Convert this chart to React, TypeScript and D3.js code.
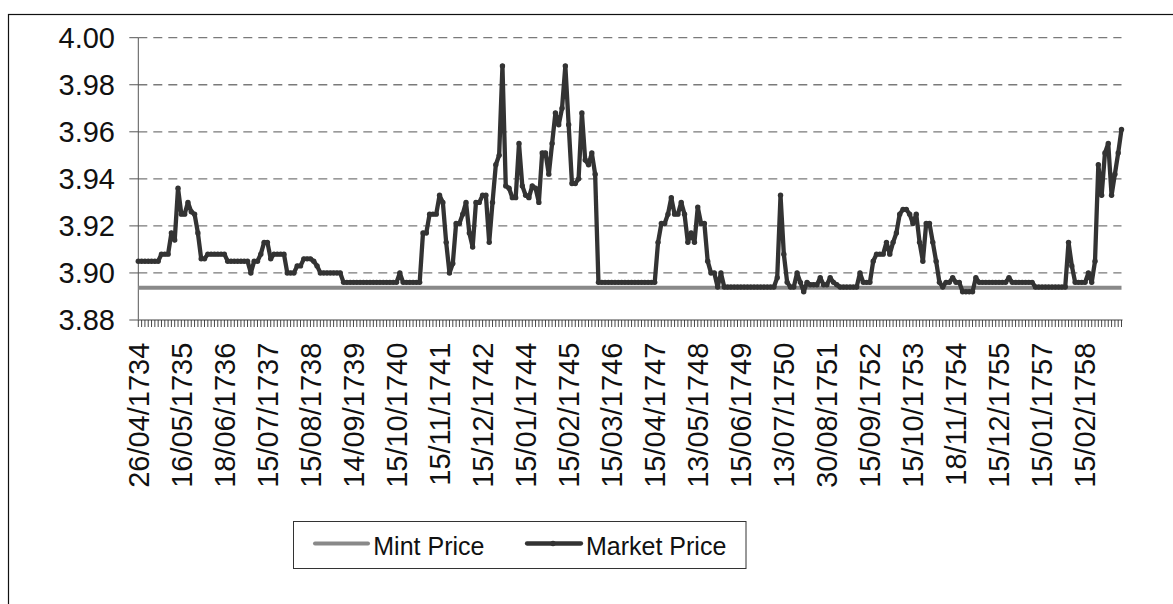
import React from 'react';
import * as d3 from 'd3';

// Category-axis labels (every 13th monthly observation)
const tickLabels = [
  '26/04/1734', '16/05/1735', '18/06/1736', '15/07/1737', '15/08/1738', '14/09/1739',
  '15/10/1740', '15/11/1741', '15/12/1742', '15/01/1744', '15/02/1745', '15/03/1746',
  '15/04/1747', '13/05/1748', '15/06/1749', '13/07/1750', '30/08/1751', '15/09/1752',
  '15/10/1753', '18/11/1754', '15/12/1755', '15/01/1757', '15/02/1758',
];
const LABEL_EVERY = 13;

const marketPrice = [
  3.905, 3.905, 3.905, 3.905, 3.905, 3.905, 3.905, 3.908, 3.908, 3.908,
  3.917, 3.914, 3.936, 3.925, 3.925, 3.930, 3.926, 3.925, 3.917, 3.906,
  3.906, 3.908, 3.908, 3.908, 3.908, 3.908, 3.908, 3.905, 3.905, 3.905,
  3.905, 3.905, 3.905, 3.905, 3.900, 3.905, 3.905, 3.908, 3.913, 3.913,
  3.906, 3.908, 3.908, 3.908, 3.908, 3.900, 3.900, 3.900, 3.903, 3.903,
  3.906, 3.906, 3.906, 3.905, 3.903, 3.900, 3.900, 3.900, 3.900, 3.900,
  3.900, 3.900, 3.896, 3.896, 3.896, 3.896, 3.896, 3.896, 3.896, 3.896,
  3.896, 3.896, 3.896, 3.896, 3.896, 3.896, 3.896, 3.896, 3.896, 3.900,
  3.896, 3.896, 3.896, 3.896, 3.896, 3.896, 3.917, 3.917, 3.925, 3.925,
  3.925, 3.933, 3.930, 3.913, 3.900, 3.904, 3.921, 3.921, 3.925, 3.930,
  3.917, 3.911, 3.930, 3.930, 3.933, 3.933, 3.913, 3.930, 3.946, 3.950,
  3.988, 3.937, 3.936, 3.932, 3.932, 3.955, 3.937, 3.933, 3.932, 3.937,
  3.936, 3.930, 3.951, 3.951, 3.942, 3.955, 3.968, 3.963, 3.970, 3.988,
  3.963, 3.938, 3.938, 3.940, 3.968, 3.948, 3.946, 3.951, 3.942, 3.896,
  3.896, 3.896, 3.896, 3.896, 3.896, 3.896, 3.896, 3.896, 3.896, 3.896,
  3.896, 3.896, 3.896, 3.896, 3.896, 3.896, 3.896, 3.913, 3.921, 3.921,
  3.925, 3.932, 3.925, 3.925, 3.930, 3.925, 3.913, 3.917, 3.913, 3.928,
  3.921, 3.921, 3.905, 3.900, 3.900, 3.894, 3.900, 3.894, 3.894, 3.894,
  3.894, 3.894, 3.894, 3.894, 3.894, 3.894, 3.894, 3.894, 3.894, 3.894,
  3.894, 3.894, 3.894, 3.898, 3.933, 3.908, 3.896, 3.894, 3.894, 3.900,
  3.896, 3.892, 3.896, 3.895, 3.895, 3.895, 3.898, 3.895, 3.895, 3.898,
  3.896, 3.895, 3.894, 3.894, 3.894, 3.894, 3.894, 3.894, 3.900, 3.896,
  3.896, 3.896, 3.905, 3.908, 3.908, 3.908, 3.913, 3.908, 3.913, 3.917,
  3.925, 3.927, 3.927, 3.925, 3.921, 3.925, 3.913, 3.905, 3.921, 3.921,
  3.913, 3.905, 3.896, 3.894, 3.896, 3.896, 3.898, 3.896, 3.896, 3.892,
  3.892, 3.892, 3.892, 3.898, 3.896, 3.896, 3.896, 3.896, 3.896, 3.896,
  3.896, 3.896, 3.896, 3.898, 3.896, 3.896, 3.896, 3.896, 3.896, 3.896,
  3.896, 3.894, 3.894, 3.894, 3.894, 3.894, 3.894, 3.894, 3.894, 3.894,
  3.894, 3.913, 3.903, 3.896, 3.896, 3.896, 3.896, 3.900, 3.896, 3.905,
  3.946, 3.933, 3.951, 3.955, 3.933, 3.942, 3.951, 3.961,
];

// Mint price (constant)
const MINT_PRICE = 3.89375;

const yTicks = [3.88, 3.9, 3.92, 3.94, 3.96, 3.98, 4.0];
const seriesNames = ['Mint Price', 'Market Price'];

const FONT = '"Liberation Sans", Arial, Helvetica, sans-serif';
const MARKET_COLOR = '#333333';
const MINT_COLOR = '#898989';

export default function App() {
  const W = 1173;
  const H = 604;
  const left = 138.3;
  const right = 1121.5;
  const top = 37.7;
  const bottom = 320;

  const idx = marketPrice.map((_, i) => i);
  const mintSeries = marketPrice.map(() => MINT_PRICE);

  const x = d3.scalePoint<number>().domain(idx).range([left, right]);
  const y = d3.scaleLinear().domain([3.88, 4.0]).range([bottom, top]);
  const fmt = d3.format('.2f');

  const lineGen = d3
    .line<number>()
    .x((_, i) => x(i) as number)
    .y((d) => y(d));

  return (
    <svg
      width={W}
      height={H}
      style={{ position: 'absolute', left: 0, top: 0, background: '#fff' }}
      fontFamily={FONT}
    >
      <rect x={0} y={0} width={W} height={H} fill="#fff" />
      {/* chart frame */}
      <rect x={8.5} y={14.5} width={1300} height={700} fill="none" stroke="#111" strokeWidth={1.2} />

      {/* gridlines */}
      {yTicks
        .filter((t) => t > 3.881)
        .map((t) => (
          <line
            key={'g' + t}
            x1={left}
            x2={right}
            y1={y(t)}
            y2={y(t)}
            stroke="#7a7a7a"
            strokeWidth={1.3}
            strokeDasharray="9,6"
          />
        ))}

      {/* y axis */}
      <line x1={left} x2={left} y1={top} y2={bottom} stroke="#555" strokeWidth={1} />
      {yTicks.map((t) => (
        <g key={'yt' + t}>
          <line x1={left - 9} x2={left} y1={y(t)} y2={y(t)} stroke="#555" strokeWidth={1} />
          <text x={115} y={y(t) + 10.4} textAnchor="end" fontSize={29} fill="#111">
            {fmt(t)}
          </text>
        </g>
      ))}

      {/* x axis */}
      <line x1={left} x2={right + 1} y1={bottom} y2={bottom} stroke="#808080" strokeWidth={1.3} />
      {idx.map((i) => (
        <line
          key={'xt' + i}
          x1={x(i)}
          x2={x(i)}
          y1={bottom}
          y2={bottom + 7}
          stroke="#333"
          strokeWidth={0.9}
        />
      ))}
      {idx
        .filter((i) => i % LABEL_EVERY === 0 && tickLabels[i / LABEL_EVERY] !== undefined)
        .map((i) => (
          <text
            key={'xl' + i}
            transform={`translate(${(x(i) as number) + 10.4},${342.7}) rotate(-90)`}
            textAnchor="end"
            fontSize={29}
            fill="#111"
          >
            {tickLabels[i / LABEL_EVERY]}
          </text>
        ))}

      {/* series */}
      <path d={lineGen(mintSeries) || ''} fill="none" stroke={MINT_COLOR} strokeWidth={4} />
      <path
        d={lineGen(marketPrice) || ''}
        fill="none"
        stroke={MARKET_COLOR}
        strokeWidth={4.3}
        strokeLinejoin="round"
      />
      {marketPrice.map((d, i) => (
        <circle key={'m' + i} cx={x(i)} cy={y(d)} r={2.7} fill={MARKET_COLOR} />
      ))}

      {/* legend */}
      <g>
        <rect x={293.5} y={521.5} width={452.5} height={47} fill="#fff" stroke="#333" strokeWidth={1} />
        <line x1={315} x2={368} y1={543.5} y2={543.5} stroke={MINT_COLOR} strokeWidth={4} strokeLinecap="round" />
        <text x={373.3} y={555} fontSize={25} fill="#111">
          {seriesNames[0]}
        </text>
        <line x1={527} x2={581} y1={543.5} y2={543.5} stroke={MARKET_COLOR} strokeWidth={4.3} strokeLinecap="round" />
        <circle cx={553} cy={543.5} r={2.7} fill={MARKET_COLOR} />
        <text x={586} y={555} fontSize={25} fill="#111">
          {seriesNames[1]}
        </text>
      </g>
    </svg>
  );
}
